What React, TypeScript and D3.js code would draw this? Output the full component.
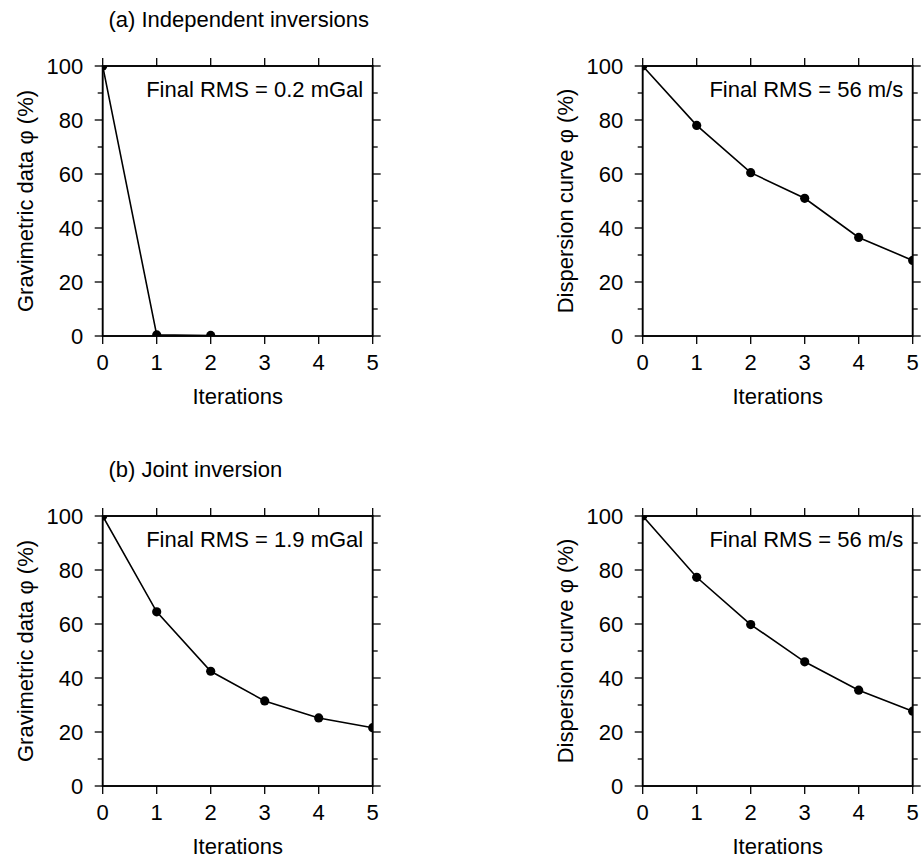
import React from "react";
import * as d3 from "d3";

const iterations = [0, 1, 2, 3, 4, 5];
const gravIndepIter = [0, 1, 2];
const gravIndep = [100, 0.4, 0.2];
const dispIndep = [100, 78, 60.5, 51, 36.5, 28];
const gravJoint = [100, 64.5, 42.5, 31.5, 25.2, 21.6];
const dispJoint = [100, 77.3, 59.8, 46, 35.5, 27.7];
const xTicks = [0, 1, 2, 3, 4, 5];
const yMajorTicks = [0, 20, 40, 60, 80, 100];
const yMinorTicks = [0, 10, 20, 30, 40, 50, 60, 70, 80, 90, 100];
const titles = ["(a) Independent inversions", "(b) Joint inversion"];
const rmsLabels = ["Final RMS = 0.2 mGal", "Final RMS = 56 m/s", "Final RMS = 1.9 mGal", "Final RMS = 56 m/s"];
const yLabels = ["Gravimetric data φ (%)", "Dispersion curve φ (%)"];

const W = 270;
const H = 270;
const FONT = "'Liberation Sans', Arial, Helvetica, sans-serif";
const FS = 22;

type PanelProps = {
  id: string;
  left: number;
  top: number;
  xs: number[];
  ys: number[];
  rms: string;
  ylabel: string;
};

function Panel({ id, left, top, xs, ys, rms, ylabel }: PanelProps) {
  const x = d3.scaleLinear().domain([0, 5]).range([0, W]);
  const y = d3.scaleLinear().domain([0, 100]).range([H, 0]);
  const pts = xs.map((v, i) => [v, ys[i]] as [number, number]);
  const line = d3
    .line<[number, number]>()
    .x((d) => x(d[0]))
    .y((d) => y(d[1]));
  const majorLen = 8;
  const minorLen = 5;
  return (
    <g transform={`translate(${left},${top})`}>
      <defs>
        <clipPath id={id}>
          <rect x={0} y={0} width={W} height={H} />
        </clipPath>
      </defs>
      <g clipPath={`url(#${id})`}>
        <path d={line(pts) || ""} fill="none" stroke="#000" strokeWidth={1.6} />
        {pts.map((p, i) => (
          <circle key={i} cx={x(p[0])} cy={y(p[1])} r={4.6} fill="#000" />
        ))}
      </g>
      {/* x ticks bottom & top */}
      {xTicks.map((t) => (
        <g key={"xt" + t}>
          <line x1={x(t)} x2={x(t)} y1={H} y2={H + majorLen} stroke="#000" strokeWidth={1.3} />
          <line x1={x(t)} x2={x(t)} y1={0} y2={-majorLen} stroke="#000" strokeWidth={1.3} />
          <text x={x(t)} y={H + 34} textAnchor="middle" fontSize={FS} fontFamily={FONT}>
            {t}
          </text>
        </g>
      ))}
      {/* y ticks */}
      {yMinorTicks.map((t) => {
        const len = t % 20 === 0 ? majorLen : minorLen;
        return (
          <g key={"yt" + t}>
            <line x1={-len} x2={0} y1={y(t)} y2={y(t)} stroke="#000" strokeWidth={1.3} />
            <line x1={W} x2={W + len} y1={y(t)} y2={y(t)} stroke="#000" strokeWidth={1.3} />
          </g>
        );
      })}
      {yMajorTicks.map((t) => (
        <text key={"yl" + t} x={-19.5} y={y(t) + 8} textAnchor="end" fontSize={FS} fontFamily={FONT}>
          {t}
        </text>
      ))}
      <rect x={0} y={0} width={W} height={H} fill="none" stroke="#000" strokeWidth={1.9} />
      <text x={W - 9.5} y={30.5} textAnchor="end" fontSize={FS} fontFamily={FONT}>
        {rms}
      </text>
      <text x={W / 2} y={H + 68} textAnchor="middle" fontSize={FS} fontFamily={FONT}>
        Iterations
      </text>
      <text
        transform={`translate(${-69.7},${H / 2}) rotate(-90)`}
        textAnchor="middle"
        fontSize={FS}
        fontFamily={FONT}
      >
        {ylabel}
      </text>
    </g>
  );
}

export default function App() {
  const lefts = [102.7, 642.7];
  const tops = [66, 516];
  return (
    <svg
      width={924}
      height={861}
      viewBox="0 0 924 861"
      style={{ position: "absolute", left: 0, top: 0, background: "#fff", display: "block" }}
    >
      <rect x={0} y={0} width={924} height={861} fill="#fff" />
      <text x={108.5} y={27} fontSize={FS} fontFamily={FONT}>
        {titles[0]}
      </text>
      <text x={108.5} y={477} fontSize={FS} fontFamily={FONT}>
        {titles[1]}
      </text>
      <Panel id="c1" left={lefts[0]} top={tops[0]} xs={gravIndepIter} ys={gravIndep} rms={rmsLabels[0]} ylabel={yLabels[0]} />
      <Panel id="c2" left={lefts[1]} top={tops[0]} xs={iterations} ys={dispIndep} rms={rmsLabels[1]} ylabel={yLabels[1]} />
      <Panel id="c3" left={lefts[0]} top={tops[1]} xs={iterations} ys={gravJoint} rms={rmsLabels[2]} ylabel={yLabels[0]} />
      <Panel id="c4" left={lefts[1]} top={tops[1]} xs={iterations} ys={dispJoint} rms={rmsLabels[3]} ylabel={yLabels[1]} />
    </svg>
  );
}
